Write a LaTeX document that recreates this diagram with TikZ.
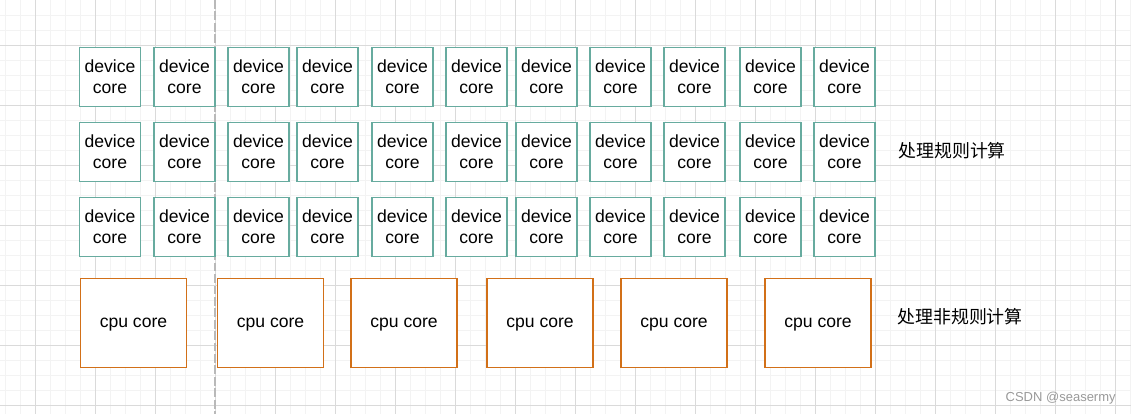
\documentclass[tikz,border=0pt]{standalone}
\usepackage{fontspec}
\setmainfont{Liberation Sans}
\newfontfamily\cjk{Noto Sans CJK SC}
\usepackage{xcolor}
\usetikzlibrary{positioning}
\definecolor{devteal}{HTML}{67AB9F}
\definecolor{cpuorange}{RGB}{210,112,24}
\definecolor{gridmajor}{HTML}{DADADA}
\definecolor{gridminor}{HTML}{F3F3F3}

\begin{document}
\begin{tikzpicture}[
  x=0.02cm, y=-0.02cm,
  % one base style per core kind; positions below in px of the sheet
  D/.style={rectangle, draw=devteal, fill=white, line width=0.9pt,
            minimum width=1.22cm, minimum height=1.18cm, inner sep=0pt,
            align=center, font=\fontsize{10}{12}\selectfont},
  P/.style={rectangle, draw=cpuorange, fill=white, line width=0.9pt,
            minimum width=2.12cm, minimum height=1.78cm, inner sep=0pt,
            text depth=0pt, font=\fontsize{10}{12}\selectfont},
  L/.style={anchor=west, inner sep=0pt, font=\cjk\fontsize{10.2}{12}\selectfont},
  gmin/.style={gridminor, line width=0.55pt},
  gmaj/.style={gridmajor, line width=0.55pt},
  sep/.style={gray!55, line width=0.8pt, dash pattern=on 5pt off 1.5pt},
]
\useasboundingbox (0,0) rectangle (1131,414);

%% ── Grid ──────────────────────────────────────────────────────────
\foreach \gx in {5,20,...,1130} \draw[gmin] (\gx,0) -- (\gx,414);
\foreach \gy in {15,30,...,405} \draw[gmin] (0,\gy) -- (1131,\gy);
\foreach \gx in {35,95,...,1115} \draw[gmaj] (\gx,0) -- (\gx,414);
\foreach \gy in {45,105,...,405} \draw[gmaj] (0,\gy) -- (1131,\gy);

%% ── Divider ───────────────────────────────────────────────────────
\coordinate (septop) at (215,0);
\coordinate (sepbot) at (215,414);
\draw[sep] (septop) -- (sepbot);

%% ── Device cores ──────────────────────────────────────────────────
\foreach \r/\ry in {1/77, 2/152, 3/227}
  \foreach \c/\cx in {1/110, 2/184.5, 3/258.5, 4/327.5, 5/402.5, 6/476.5,
                      7/546.5, 8/620.5, 9/694.5, 10/770.5, 11/844.5}
    \node[D] (dev\r-\c) at (\cx,\ry) {device\\core};

%% ── CPU cores ─────────────────────────────────────────────────────
\foreach \c/\cx in {1/133.5, 2/270.5, 3/404, 4/540, 5/674, 6/818}
  \node[P] (cpu\c) at (\cx,323) {cpu core};

%% ── Labels ────────────────────────────────────────────────────────
\node[L] (lblreg) at (898,151) {处理规则计算};
\node[L] (lblirr) at (897,317) {处理非规则计算};
\node[anchor=east, inner sep=0pt, text=gray!80, font=\fontsize{7.4}{9}\selectfont]
  (mark) at (1116,398) {CSDN @seasermy};

\end{tikzpicture}
\end{document}
